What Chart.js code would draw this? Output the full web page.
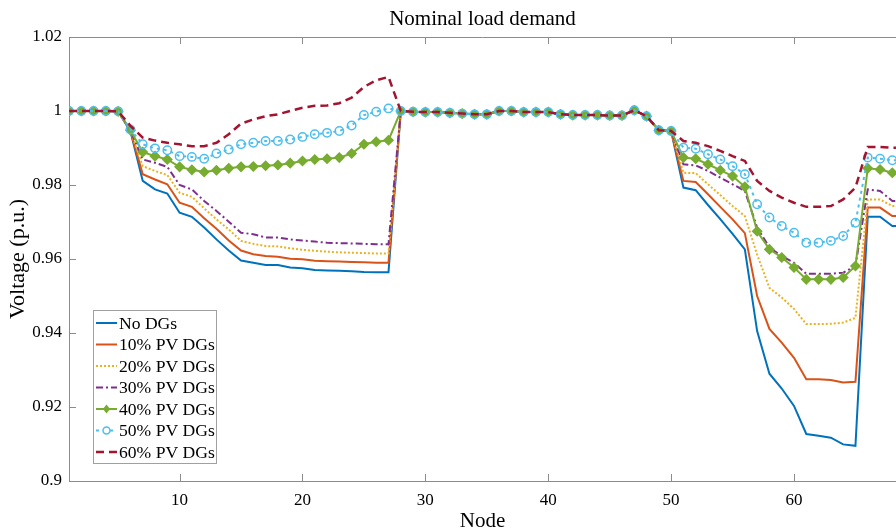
<!DOCTYPE html>
<html>
<head>
<meta charset="utf-8">
<title>Nominal load demand</title>
<script src="https://cdn.jsdelivr.net/npm/chart.js"></script>
<style>
  html, body { margin: 0; padding: 0; background: #fff; }
  #wrap { width: 896px; height: 532px; }
</style>
</head>
<body>
<div id="wrap"><canvas id="chart"></canvas></div>
<script>
// node numbers (69-bus feeder)
const nodes = [
  1, 2, 3, 4, 5, 6, 7, 8, 9, 10, 11, 12, 13, 14, 15, 16, 17, 18, 19, 20,
  21, 22, 23, 24, 25, 26, 27, 28, 29, 30, 31, 32, 33, 34, 35, 36, 37, 38, 39, 40,
  41, 42, 43, 44, 45, 46, 47, 48, 49, 50, 51, 52, 53, 54, 55, 56, 57, 58, 59, 60,
  61, 62, 63, 64, 65, 66, 67, 68, 69
];

// voltages (p.u.); rows: nodes 1-6 | 7-27 | 28-50 | 51-69
const noDG = [
  1, 1, 1, 1, 0.9999, 0.9945,
  0.9811, 0.9788, 0.9777, 0.9725, 0.9714, 0.9685, 0.9653, 0.9623, 0.9596, 0.959, 0.9584, 0.9584, 0.9577, 0.9575, 0.957, 0.9569, 0.9568, 0.9567, 0.9565, 0.9564, 0.9564,
  1, 0.9998, 0.9997, 0.9997, 0.9995, 0.9993, 0.9991, 0.9991, 1, 1, 0.9997, 0.9997, 0.9997, 0.9991, 0.9989, 0.9989, 0.9989, 0.9988, 0.9988, 1.0002, 0.9986, 0.9948, 0.9946,
  0.9793, 0.9786, 0.9746, 0.9708, 0.9668, 0.9626, 0.9405, 0.929, 0.925, 0.9203, 0.9127, 0.9122, 0.9117, 0.9099, 0.9095, 0.9714, 0.9714, 0.9689, 0.9689
];
const pv10 = [
  1, 1, 1, 1, 0.9999, 0.9946,
  0.9829, 0.9815, 0.9802, 0.9752, 0.9741, 0.971, 0.9682, 0.965, 0.9623, 0.9613, 0.9608, 0.9606, 0.9601, 0.9599, 0.9595, 0.9594, 0.9593, 0.9592, 0.9591, 0.959, 0.959,
  1, 0.9998, 0.9997, 0.9997, 0.9995, 0.9993, 0.9991, 0.9991, 1, 1, 0.9997, 0.9997, 0.9997, 0.9991, 0.9989, 0.9989, 0.9989, 0.9988, 0.9988, 1.0002, 0.9986, 0.9948, 0.9946,
  0.9811, 0.9808, 0.9775, 0.9741, 0.9707, 0.967, 0.95, 0.9411, 0.9374, 0.9333, 0.9275, 0.9275, 0.9273, 0.9266, 0.9268, 0.9739, 0.9739, 0.9716, 0.9716
];
const pv20 = [
  1, 1, 1, 1, 0.9999, 0.9947,
  0.9851, 0.9838, 0.9827, 0.9779, 0.9768, 0.9737, 0.9707, 0.968, 0.9649, 0.9641, 0.9635, 0.9634, 0.9629, 0.9625, 0.9622, 0.962, 0.9618, 0.9617, 0.9616, 0.9615, 0.9615,
  1, 0.9998, 0.9997, 0.9997, 0.9995, 0.9993, 0.9991, 0.9991, 1, 1, 0.9997, 0.9997, 0.9997, 0.9991, 0.9989, 0.9989, 0.9989, 0.9988, 0.9988, 1.0002, 0.9986, 0.9948, 0.9946,
  0.9833, 0.9832, 0.9802, 0.9773, 0.9743, 0.9716, 0.9612, 0.9522, 0.9496, 0.9465, 0.9424, 0.9424, 0.9425, 0.9428, 0.9441, 0.9761, 0.9761, 0.9743, 0.9743
];
const pv30 = [
  1, 1, 1, 1, 0.9999, 0.9948,
  0.9869, 0.986, 0.9849, 0.98, 0.9788, 0.9757, 0.973, 0.9701, 0.9671, 0.9667, 0.9658, 0.9658, 0.9653, 0.965, 0.9647, 0.9644, 0.9643, 0.9642, 0.9641, 0.964, 0.964,
  1, 0.9998, 0.9997, 0.9997, 0.9995, 0.9993, 0.9991, 0.9991, 1, 1, 0.9997, 0.9997, 0.9997, 0.9991, 0.9989, 0.9989, 0.9989, 0.9988, 0.9988, 1.0002, 0.9986, 0.9948, 0.9946,
  0.9856, 0.9853, 0.9838, 0.982, 0.9802, 0.9784, 0.9685, 0.9631, 0.9608, 0.959, 0.956, 0.956, 0.956, 0.9563, 0.9581, 0.9788, 0.9784, 0.9757, 0.9757
];
const pv40 = [
  1, 1, 1, 1, 0.9999, 0.9948,
  0.9889, 0.9878, 0.9869, 0.9849, 0.9841, 0.9835, 0.984, 0.9845, 0.9849, 0.985, 0.9852, 0.9854, 0.9859, 0.9865, 0.9869, 0.9871, 0.9874, 0.9885, 0.991, 0.9917, 0.9921,
  1, 0.9998, 0.9997, 0.9997, 0.9995, 0.9993, 0.9991, 0.9991, 1, 1, 0.9997, 0.9997, 0.9997, 0.9991, 0.9989, 0.9989, 0.9989, 0.9988, 0.9988, 1.0002, 0.9986, 0.9948, 0.9946,
  0.9874, 0.9871, 0.9856, 0.984, 0.9824, 0.9795, 0.9675, 0.9626, 0.9604, 0.9577, 0.9545, 0.9545, 0.9545, 0.955, 0.9581, 0.9845, 0.9842, 0.9833, 0.9833
];
const pv50 = [
  1, 1, 1, 1, 0.9999, 0.995,
  0.991, 0.9899, 0.9894, 0.9878, 0.9876, 0.9871, 0.9885, 0.9896, 0.991, 0.9914, 0.9919, 0.9919, 0.9923, 0.993, 0.9937, 0.9941, 0.9946, 0.9961, 0.9989, 0.9998, 1.0007,
  1, 0.9998, 0.9997, 0.9997, 0.9995, 0.9993, 0.9991, 0.9991, 1, 1, 0.9997, 0.9997, 0.9997, 0.9991, 0.9989, 0.9989, 0.9989, 0.9988, 0.9988, 1.0002, 0.9986, 0.9948, 0.9946,
  0.9901, 0.9898, 0.9883, 0.9869, 0.9851, 0.9829, 0.9748, 0.9712, 0.9689, 0.9671, 0.9644, 0.9644, 0.9649, 0.9662, 0.9698, 0.9874, 0.9871, 0.9867, 0.9867
];
const pv60 = [
  1, 1, 1, 1, 0.9999, 0.996,
  0.9928, 0.992, 0.9914, 0.991, 0.9905, 0.9905, 0.9914, 0.9937, 0.9966, 0.9977, 0.9986, 0.9991, 1.0, 1.0009, 1.0014, 1.0015, 1.0021, 1.0036, 1.0065, 1.0083, 1.0092,
  1, 0.9998, 0.9997, 0.9997, 0.9995, 0.9993, 0.9991, 0.9991, 1, 1, 0.9997, 0.9997, 0.9997, 0.9991, 0.9989, 0.9989, 0.9989, 0.9988, 0.9988, 1.0002, 0.9986, 0.9948, 0.9946,
  0.9919, 0.9914, 0.9905, 0.9892, 0.9878, 0.9865, 0.9811, 0.9784, 0.9766, 0.9752, 0.9741, 0.9741, 0.9743, 0.9761, 0.9793, 0.9903, 0.9903, 0.9901, 0.9901
];

const seriesNames = ['No DGs', '10% PV DGs', '20% PV DGs', '30% PV DGs', '40% PV DGs', '50% PV DGs', '60% PV DGs'];
const xTicks = [10, 20, 30, 40, 50, 60];
const yTicks = [0.9, 0.92, 0.94, 0.96, 0.98, 1, 1.02];
const yTickLabels = ['0.9', '0.92', '0.94', '0.96', '0.98', '1', '1.02'];

const SERIF = '"Liberation Serif", "Times New Roman", serif';
const AXIS = '#8c8c8c';

const toXY = vals => vals.map((v, i) => ({ x: nodes[i], y: v }));

const styles = [
  { color: '#0072BD', width: 2 },
  { color: '#D95319', width: 2 },
  { color: '#EDB120', width: 2, dash: [2, 2] },
  { color: '#7E2F8E', width: 2, dash: [7, 3, 2, 3] },
  { color: '#77AC30', width: 2, marker: 'rectRot', radius: 4.5, fill: '#77AC30' },
  { color: '#4DBEEE', width: 2, dash: [3, 4], marker: 'circle', radius: 4.2, fill: 'rgba(255,255,255,0)' },
  { color: '#A2142F', width: 2.5, dash: [8, 5] }
];

const allSeries = [noDG, pv10, pv20, pv30, pv40, pv50, pv60];

const datasets = allSeries.map((vals, i) => {
  const s = styles[i];
  return {
    label: seriesNames[i],
    data: toXY(vals),
    borderColor: s.color,
    borderWidth: s.width,
    borderDash: s.dash || [],
    pointStyle: s.marker || 'circle',
    pointRadius: s.marker ? s.radius : 0,
    pointBorderColor: s.color,
    pointBackgroundColor: s.fill || s.color,
    pointBorderWidth: 1.5,
    tension: 0,
    order: allSeries.length - i
  };
});

// MATLAB-style box: ticks pointing inwards and a top edge
const insideTicks = {
  id: 'insideTicks',
  beforeDatasetsDraw(chart) {
    const { ctx, chartArea: a, scales: { x, y } } = chart;
    ctx.save();
    ctx.strokeStyle = AXIS;
    ctx.lineWidth = 1;
    ctx.beginPath();
    ctx.moveTo(a.left, a.top + 0.5);
    ctx.lineTo(a.right, a.top + 0.5);
    xTicks.forEach(v => {
      const px = Math.round(x.getPixelForValue(v)) + 0.5;
      ctx.moveTo(px, a.bottom);
      ctx.lineTo(px, a.bottom - 7);
      ctx.moveTo(px, a.top);
      ctx.lineTo(px, a.top + 7);
    });
    yTicks.forEach(v => {
      const py = Math.round(y.getPixelForValue(v)) + 0.5;
      ctx.moveTo(a.left, py);
      ctx.lineTo(a.left + 7, py);
    });
    ctx.stroke();
    ctx.restore();
  }
};

// legend in the lower left corner of the axes
const boxLegend = {
  id: 'boxLegend',
  afterDraw(chart) {
    const ctx = chart.ctx;
    const x0 = 93, y0 = 310, w = 123, h = 153;
    ctx.save();
    ctx.fillStyle = '#fff';
    ctx.fillRect(x0, y0, w, h);
    ctx.strokeStyle = '#a0a0a0';
    ctx.lineWidth = 1;
    ctx.strokeRect(x0 + 0.5, y0 + 0.5, w, h);
    chart.data.datasets.forEach((ds, i) => {
      const s = styles[i];
      const y = y0 + 13 + i * 21.5;
      ctx.strokeStyle = s.color;
      ctx.lineWidth = s.width;
      ctx.setLineDash(s.dash || []);
      ctx.beginPath();
      ctx.moveTo(x0 + 3, y);
      ctx.lineTo(x0 + 24, y);
      ctx.stroke();
      ctx.setLineDash([]);
      const cx = x0 + 13.5;
      if (s.marker === 'rectRot') {
        const r = s.radius;
        ctx.fillStyle = s.fill;
        ctx.beginPath();
        ctx.moveTo(cx, y - r); ctx.lineTo(cx + r * 0.8, y); ctx.lineTo(cx, y + r); ctx.lineTo(cx - r * 0.8, y);
        ctx.closePath();
        ctx.fill();
      } else if (s.marker === 'circle') {
        ctx.lineWidth = 1.5;
        ctx.fillStyle = '#fff';
        ctx.beginPath();
        ctx.arc(cx, y, s.radius - 0.7, 0, Math.PI * 2);
        ctx.fill();
        ctx.stroke();
      }
      ctx.fillStyle = '#000';
      ctx.font = '17.6px ' + SERIF;
      ctx.textBaseline = 'middle';
      ctx.textAlign = 'left';
      ctx.fillText(ds.label, x0 + 26, y + 1);
    });
    ctx.restore();
  }
};

new Chart(document.getElementById('chart'), {
  type: 'line',
  data: { datasets: datasets },
  plugins: [insideTicks, boxLegend],
  options: {
    responsive: true,
    maintainAspectRatio: false,
    animation: false,
    layout: { padding: 0, autoPadding: false },
    plugins: {
      legend: { display: false },
      tooltip: { enabled: false },
      title: {
        display: true,
        text: 'Nominal load demand',
        fullSize: false,
        color: '#000',
        font: { family: SERIF, size: 21, weight: 'normal' },
        padding: { top: 7, bottom: 4.8 }
      }
    },
    scales: {
      x: {
        type: 'linear',
        min: 1,
        max: 68.3,
        afterBuildTicks: s => { s.ticks = xTicks.map(v => ({ value: v })); },
        afterFit: s => { s.height = 51; },
        grid: { display: false, drawTicks: false },
        border: { display: true, color: AXIS, width: 1 },
        ticks: { color: '#000', font: { family: SERIF, size: 17 }, padding: 9, maxRotation: 0, autoSkip: false },
        title: { display: true, text: 'Node', color: '#000', font: { family: SERIF, size: 21 }, padding: { top: 0, bottom: -2 } }
      },
      y: {
        type: 'linear',
        min: 0.9,
        max: 1.02,
        afterBuildTicks: s => { s.ticks = yTicks.map(v => ({ value: v })); },
        afterFit: s => { s.width = 69; },
        grid: { display: false, drawTicks: false },
        border: { display: true, color: AXIS, width: 1 },
        ticks: {
          color: '#000',
          font: { family: SERIF, size: 17 },
          padding: 7,
          callback: v => yTickLabels[yTicks.findIndex(t => Math.abs(t - v) < 1e-6)]
        },
        title: { display: true, text: 'Voltage (p.u.)', color: '#000', font: { family: SERIF, size: 22 }, padding: { top: 5, bottom: 0 } }
      }
    }
  }
});
</script>
</body>
</html>
